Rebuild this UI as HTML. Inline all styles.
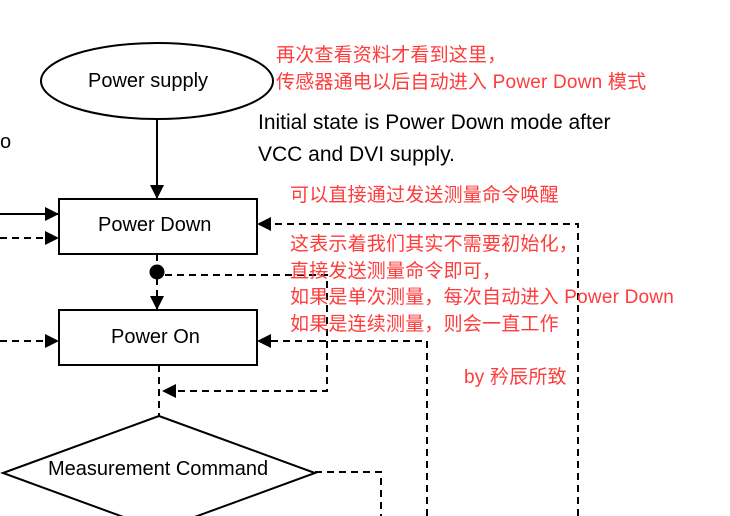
<!DOCTYPE html>
<html><head><meta charset="utf-8"><style>
body{margin:0;width:730px;height:516px;background:#fff;overflow:hidden;position:relative;font-family:"Liberation Sans","Noto Sans CJK SC",sans-serif}
.t{position:absolute;white-space:nowrap}
.r{color:#ff3b3b;font-size:19px;letter-spacing:0.2px}
.k{color:#000;font-size:20px}
</style></head><body>
<svg width="730" height="516" style="position:absolute;left:0;top:0">
<defs><marker id="a" markerWidth="14" markerHeight="14" refX="13" refY="7" orient="auto" markerUnits="userSpaceOnUse"><path d="M0,0 L14,7 L0,14 z" fill="#000"/></marker></defs>
<g stroke="#000" stroke-width="2" fill="none">
<ellipse cx="157" cy="81" rx="116" ry="38" fill="#fff"/>
<line x1="157" y1="119" x2="157" y2="198" marker-end="url(#a)"/>
<rect x="59" y="199" width="198" height="55" fill="#fff"/>
<rect x="59" y="310" width="198" height="55" fill="#fff"/>
<line x1="0" y1="214" x2="58" y2="214" marker-end="url(#a)"/>
<polygon points="3,473 159,416 315,473 159,530" fill="#fff"/>
</g>
<g stroke="#000" stroke-width="2" fill="none" stroke-dasharray="7,5">
<line x1="0" y1="238" x2="58" y2="238" marker-end="url(#a)"/>
<line x1="0" y1="341" x2="58" y2="341" marker-end="url(#a)"/>
<line x1="157" y1="254" x2="157" y2="309" marker-end="url(#a)"/>
<polyline points="165,275 327,275 327,391 163,391" marker-end="url(#a)"/>
<polyline points="578,516 578,224 258,224" marker-end="url(#a)"/>
<polyline points="427,516 427,341 258,341" marker-end="url(#a)"/>
<line x1="159" y1="365" x2="159" y2="416"/>
<polyline points="315,472 381,472 381,516"/>
</g>
<circle cx="157" cy="272" r="7.5" fill="#000"/>
</svg>
<div class="t k" style="left:88px;top:70px">Power supply</div>
<div class="t k" style="left:98px;top:214px">Power Down</div>
<div class="t k" style="left:111px;top:326px">Power On</div>
<div class="t k" style="left:48px;top:458px">Measurement Command</div>
<div class="t k" style="left:0px;top:131px">o</div>
<div class="t k" style="left:258px;top:107px;line-height:32px;font-size:21px">Initial state is Power Down mode after<br>VCC and DVI supply.</div>
<div class="t r" style="left:276px;top:42px;line-height:27px">再次查看资料才看到这里，<br>传感器通电以后自动进入 Power Down 模式</div>
<div class="t r" style="left:290px;top:180px">可以直接通过发送测量命令唤醒</div>
<div class="t r" style="left:290px;top:232px;line-height:26.5px">这表示着我们其实不需要初始化，<br>直接发送测量命令即可，<br>如果是单次测量，每次自动进入 Power Down<br>如果是连续测量，则会一直工作</div>
<div class="t r" style="left:464px;top:362px">by 矜辰所致</div>
</body></html>
